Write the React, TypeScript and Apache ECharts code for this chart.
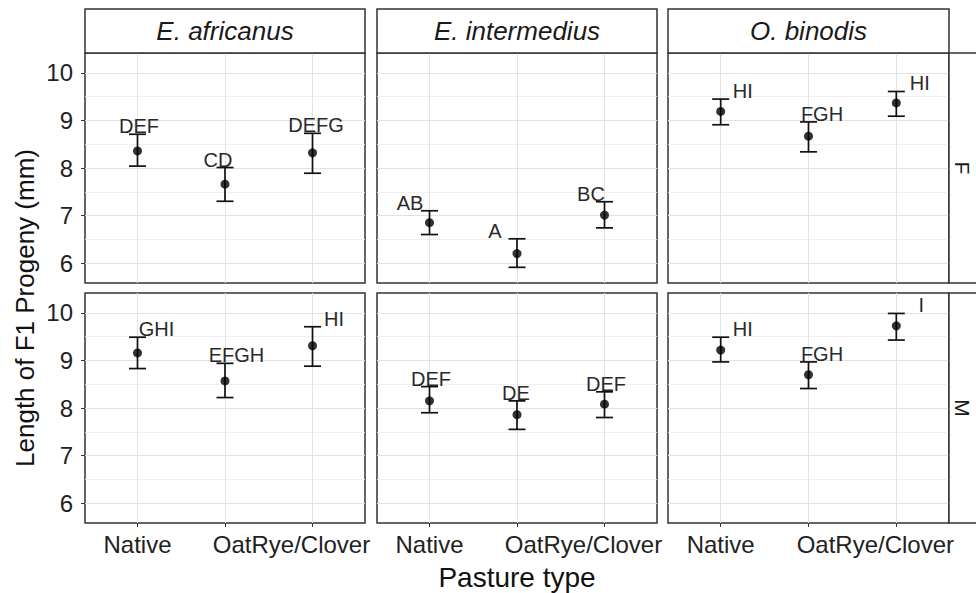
import React, { useEffect, useRef } from "react";
import * as echarts from "echarts";

// ---- data ----
const species = ["E. africanus", "E. intermedius", "O. binodis"];
const sexes = ["F", "M"];
const pastures = ["Native", "OatRye", "Clover"];
const xTickLabels = ["Native", "", "OatRye/Clover"];
const yTicks = [6, 7, 8, 9, 10];
const yMinorTicks = [6.5, 7.5, 8.5, 9.5];
const xAxisTitle = "Pasture type";
const yAxisTitle = "Length of F1 Progeny (mm)";

// F (females): one inner array per species, values per pasture
const meanF = [[8.36, 7.66, 8.32], [6.85, 6.2, 7.01], [9.19, 8.67, 9.37]];
const lowF = [[8.04, 7.3, 7.89], [6.6, 5.91, 6.74], [8.91, 8.34, 9.09]];
const highF = [[8.71, 8.01, 8.73], [7.1, 6.51, 7.29], [9.45, 8.97, 9.61]];
const lettersF = [["DEF", "CD", "DEFG"], ["AB", "A", "BC"], ["HI", "FGH", "HI"]];

// M (males)
const meanM = [[9.16, 8.57, 9.31], [8.15, 7.86, 8.08], [9.22, 8.7, 9.73]];
const lowM = [[8.83, 8.22, 8.88], [7.9, 7.55, 7.8], [8.97, 8.41, 9.43]];
const highM = [[9.49, 8.94, 9.71], [8.45, 8.15, 8.34], [9.49, 8.97, 9.99]];
const lettersM = [["GHI", "EFGH", "HI"], ["DEF", "DE", "DEF"], ["HI", "FGH", "I"]];

// ---- style / layout ----
const labelShift = [
  [[1.5, -7, 3.5], [-19.5, -22, -13.5], [22, 13.5, 23.5]],
  [[19, 11.5, 21.5], [1.5, -1, 1.5], [22, 13.5, 25]],
];
const FONT = "'Liberation Sans', Arial, sans-serif";
const colLeft = [85, 377, 668];
const colWidth = [280, 280, 281];
const rowTop = [53, 293];
const rowHeight = 230;
const stripTop = 9;
const stripH = 44;
const Y_MIN = 5.58;
const Y_MAX = 10.42;

export default function App() {
  const ref = useRef<HTMLDivElement | null>(null);

  useEffect(() => {
    if (!ref.current) return;
    const chart = echarts.init(ref.current, null, { renderer: "svg" });

    const means = [meanF, meanM];
    const lows = [lowF, lowM];
    const highs = [highF, highM];
    const letters = [lettersF, lettersM];

    const grid: any[] = [];
    const xAxis: any[] = [];
    const yAxis: any[] = [];
    const series: any[] = [];

    for (let r = 0; r < sexes.length; r++) {
      for (let c = 0; c < species.length; c++) {
        const idx = r * species.length + c;
        grid.push({
          left: colLeft[c],
          top: rowTop[r],
          width: colWidth[c],
          height: rowHeight,
          show: true,
          backgroundColor: "#fff",
          borderColor: "#333",
          borderWidth: 1.5,
          z: 0,
        });
        xAxis.push({
          gridIndex: idx,
          type: "value",
          min: 0.4,
          max: 3.6,
          axisLine: { show: false },
          axisTick: {
            show: r === 1,
            customValues: [1, 2, 3],
            length: 4,
            lineStyle: { color: "#333", width: 1 },
          },
          axisLabel: {
            show: r === 1,
            customValues: [1, 2, 3],
            margin: 9,
            fontSize: 24,
            color: "#222",
            fontFamily: FONT,
            formatter: (v: number) => {
              const i = Math.round(v) - 1;
              const t = xTickLabels[i] ?? "";
              if (i === 2) return `{wide|${t}}`;
              return t;
            },
            rich: {
              wide: {
                fontSize: 24,
                color: "#222",
                fontFamily: FONT,
                padding: [0, 42, 0, 0],
              },
            },
          },
          splitLine: { show: true, lineStyle: { color: "#e2e2e2", width: 1 } },
        });
        yAxis.push({
          gridIndex: idx,
          type: "value",
          min: Y_MIN,
          max: Y_MAX,
          axisLine: { show: false },
          axisTick: {
            show: c === 0,
            customValues: yTicks,
            length: 4,
            lineStyle: { color: "#333", width: 1 },
          },
          axisLabel: {
            show: c === 0,
            customValues: yTicks,
            margin: 12,
            fontSize: 24,
            color: "#222",
            fontFamily: FONT,
          },
          splitLine: { show: true, lineStyle: { color: "#e2e2e2", width: 1 } },
        });
        yAxis.push({
          gridIndex: idx,
          type: "value",
          position: "right",
          min: Y_MIN,
          max: Y_MAX,
          axisLine: { show: false },
          axisTick: { show: false, customValues: yMinorTicks },
          axisLabel: { show: false, customValues: yMinorTicks },
          splitLine: { show: true, lineStyle: { color: "#ececec", width: 0.8 } },
        });

        const m = means[r][c];
        const lo = lows[r][c];
        const hi = highs[r][c];
        const lt = letters[r][c];
        const shifts = labelShift[r][c];

        series.push({
          type: "custom",
          xAxisIndex: idx,
          yAxisIndex: idx * 2,
          z: 3,
          data: pastures.map((_, k) => [k + 1, m[k], lo[k], hi[k]]),
          renderItem: (params: any, api: any) => {
            const k = params.dataIndex;
            const x = api.value(0);
            const top = api.coord([x, api.value(3)]);
            const bot = api.coord([x, api.value(2)]);
            const half = 8.5;
            const ls = { stroke: "#111", lineWidth: 1.7 };
            return {
              type: "group",
              children: [
                { type: "line", shape: { x1: top[0], y1: top[1], x2: bot[0], y2: bot[1] }, style: ls },
                { type: "line", shape: { x1: top[0] - half, y1: top[1], x2: top[0] + half, y2: top[1] }, style: ls },
                { type: "line", shape: { x1: bot[0] - half, y1: bot[1], x2: bot[0] + half, y2: bot[1] }, style: ls },
                {
                  type: "text",
                  x: top[0] + shifts[k],
                  y: top[1] - 8,
                  style: {
                    text: lt[k],
                    fontSize: 20,
                    fontFamily: FONT,
                    fill: "#2a2a2a",
                    align: "center",
                    verticalAlign: "middle",
                  },
                },
              ],
            };
          },
        });
        series.push({
          type: "scatter",
          xAxisIndex: idx,
          yAxisIndex: idx * 2,
          z: 4,
          symbol: "circle",
          symbolSize: 9,
          itemStyle: { color: "#000" },
          data: pastures.map((_, k) => [k + 1, m[k]]),
        });
      }
    }

    const graphic: any[] = [];
    species.forEach((sp, c) => {
      graphic.push({
        type: "rect",
        shape: { x: colLeft[c], y: stripTop, width: colWidth[c], height: stripH },
        style: { fill: "#fff", stroke: "#333", lineWidth: 1.5 },
        z: 10,
      });
      graphic.push({
        type: "text",
        x: colLeft[c] + colWidth[c] / 2,
        y: stripTop + stripH / 2,
        style: {
          text: sp,
          fontSize: 26,
          fontStyle: "italic",
          fontFamily: FONT,
          fill: "#1a1a1a",
          align: "center",
          verticalAlign: "middle",
        },
        z: 11,
      });
    });
    sexes.forEach((s, r) => {
      graphic.push({
        type: "rect",
        shape: { x: 949, y: rowTop[r], width: 44, height: rowHeight },
        style: { fill: "#fff", stroke: "#333", lineWidth: 1.5 },
        z: 10,
      });
      graphic.push({
        type: "text",
        x: 962,
        y: rowTop[r] + rowHeight / 2,
        rotation: -Math.PI / 2,
        style: {
          text: s,
          fontSize: 21,
          fontFamily: FONT,
          fill: "#1a1a1a",
          align: "center",
          verticalAlign: "middle",
        },
        z: 11,
      });
    });
    graphic.push({
      type: "text",
      x: 517,
      y: 577,
      style: {
        text: xAxisTitle,
        fontSize: 28,
        fontFamily: FONT,
        fill: "#111",
        align: "center",
        verticalAlign: "middle",
      },
    });
    graphic.push({
      type: "text",
      x: 25,
      y: 308,
      rotation: Math.PI / 2,
      style: {
        text: yAxisTitle,
        fontSize: 26,
        fontFamily: FONT,
        fill: "#111",
        align: "center",
        verticalAlign: "middle",
      },
    });

    chart.setOption({
      animation: false,
      backgroundColor: "#fff",
      grid,
      xAxis,
      yAxis,
      series,
      graphic,
    });

    return () => chart.dispose();
  }, []);

  return (
    <div
      ref={ref}
      style={{ position: "fixed", left: 0, top: 0, width: 976, height: 593, background: "#fff" }}
    />
  );
}
